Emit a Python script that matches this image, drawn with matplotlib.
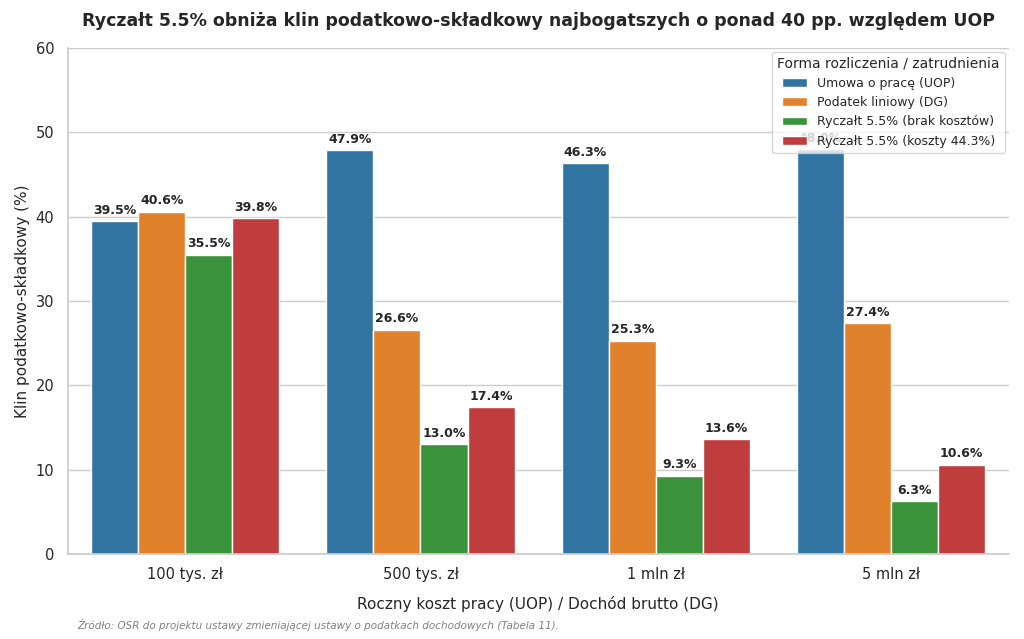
import matplotlib
matplotlib.use("Agg")
import matplotlib.pyplot as plt
import seaborn as sns
import pandas as pd

categories = ["100 tys. zł", "500 tys. zł", "1 mln zł", "5 mln zł"]
series = ["Umowa o pracę (UOP)", "Podatek liniowy (DG)",
          "Ryczałt 5.5% (brak kosztów)", "Ryczałt 5.5% (koszty 44.3%)"]
uop = [39.5, 47.9, 46.3, 48.0]
liniowy = [40.6, 26.6, 25.3, 27.4]
ryczalt_brak = [35.5, 13.0, 9.3, 6.3]
ryczalt_koszty = [39.8, 17.4, 13.6, 10.6]

rows = []
for name, vals in zip(series, [uop, liniowy, ryczalt_brak, ryczalt_koszty]):
    for c, v in zip(categories, vals):
        rows.append({"kat": c, "forma": name, "klin": v})
df = pd.DataFrame(rows)

sns.set_theme(style="whitegrid")
plt.rcParams['font.family'] = ['DejaVu Sans']
fig, ax = plt.subplots(figsize=(10.24, 6.39), dpi=100)
sns.barplot(data=df, x="kat", y="klin", hue="forma", palette="tab10", ax=ax,
            edgecolor="white", linewidth=1)
for cont in ax.containers:
    ax.bar_label(cont, fmt="%.1f%%", padding=3, fontsize=9, fontweight="bold", color="#262626")
ax.set_ylim(0, 60)
ax.set_xlabel("Roczny koszt pracy (UOP) / Dochód brutto (DG)", fontsize=11, labelpad=10)
ax.set_ylabel("Klin podatkowo-składkowy (%)", fontsize=11)
ax.set_title("Ryczałt 5.5% obniża klin podatkowo-składkowy najbogatszych o ponad 40 pp. względem UOP",
             fontsize=12.5, fontweight="bold", pad=16)
ax.tick_params(labelsize=10.5)
ax.grid(axis="x", visible=False)
sns.despine(ax=ax)
leg = ax.legend(title="Forma rozliczenia / zatrudnienia", loc="upper right", fontsize=9,
                title_fontsize=10, borderaxespad=0.3)
leg.set_zorder(10)
fig.text(0.075, 0.015, "Źródło: OSR do projektu ustawy zmieniającej ustawy o podatkach dochodowych (Tabela 11).",
         fontsize=7.5, style="italic", color="gray")
fig.subplots_adjust(left=0.066, right=0.985, top=0.925, bottom=0.133)
fig.savefig("out.png")
